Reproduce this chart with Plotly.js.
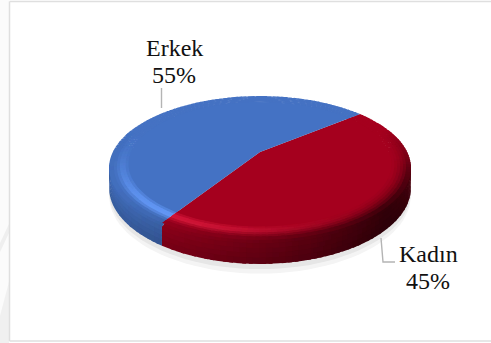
<!DOCTYPE html>
<html>
<head>
<meta charset="utf-8">
<script src="https://cdn.plot.ly/plotly-3.0.1.min.js"></script>
<style>html,body{margin:0;padding:0;background:#fff}#chart{width:491px;height:343px}</style>
</head>
<body>
<div id="chart"></div>
<script>
// Gender split shown as a tilted pie with a bevelled rim
const categories = ['Kadın', 'Erkek'];
const shares = [45, 55];
const sliceColors = [[165, 0, 30], [68, 114, 196]];
const labelSpots = [[428, 254, 281], [174, 48, 75]];

const startAngle = 39.2;            // degrees, slices run clockwise from here
const view = {cx: 260, cy: 152, A: 147.2, B: 68.4, k: 0.222, drop: 18.7};
const rimStart = 0.87;
const rad = Math.PI / 180;

// Perspective projection of a point on the disc, r in 0..1
function project(deg, r, depth) {
  const u = r * Math.cos(deg * rad), v = r * Math.sin(deg * rad), w = 1 + view.k * v;
  return [view.cx + view.A * u / w, view.cy - view.B * v / w + depth * view.drop / w];
}

const clamp = (x, a, b) => Math.min(b, Math.max(a, x));

function sideFactor(deg) {
  const lit = Math.cos((deg + 160) * rad);
  const edge = Math.pow(Math.max(0, Math.cos(deg * rad)), 10);
  return clamp(0.5 + 0.45 * lit, 0.3, 1) + 0.28 * edge;
}

function rimColor(base, deg, s) {
  const v = Math.sin(deg * rad);
  const weight = clamp((0.35 - v) / 0.6, 0, 1);
  const f = 1 - weight * s * s * (1 - sideFactor(deg));
  const glow = 0.14 * Math.pow(Math.max(0, Math.cos((deg + 122) * rad)), 3) *
               Math.exp(-Math.pow((s - 0.45) / 0.26, 2));
  return base.map(c => clamp(c * f * (1 + 1.3 * glow) + 153 * glow, 0, 255));
}

function wallColor(base, deg, s) {
  const f = sideFactor(deg) * (1 - 0.16 * s);
  return base.map(c => clamp(c * f, 0, 255));
}

// Facets are grouped by colour; each layer is painted in order so a band
// always covers the overlap of the band before it
function addFacet(store, rgb, pts) {
  const key = rgb.map(c => Math.round(c / 3) * 3).join(',');
  if (!store.has(key)) store.set(key, {x: [], y: []});
  const b = store.get(key);
  pts.concat([pts[0]]).forEach(p => { b.x.push(p[0]); b.y.push(p[1]); });
  b.x.push(null); b.y.push(null);
}

const total = shares.reduce((a, b) => a + b, 0);
const wedges = [];
let from = startAngle;
shares.forEach((share, i) => {
  const sweep = share / total * 360;
  wedges.push({name: categories[i], from: from, to: from - sweep, base: sliceColors[i]});
  from -= sweep;
});

const stepDeg = 2, rimBands = 7, wallBands = 5, lap = 0.6;
const wallLayers = Array.from({length: wallBands}, () => new Map());
const rimLayers = Array.from({length: rimBands}, () => new Map());
wedges.forEach(w => {
  const n = Math.round((w.from - w.to) / stepDeg);
  const d = (w.from - w.to) / n;
  for (let j = 0; j < n; j++) {
    const a0 = w.from - j * d, a1 = a0 - d, mid = (a0 + a1) / 2;
    const p0 = j === 0 ? a0 : a0 + lap, p1 = j === n - 1 ? a1 : a1 - lap;
    if (Math.sin(mid * rad) < 0.3) {
      for (let b = 0; b < wallBands; b++) {
        const t0 = b / wallBands, t1 = (b + 1) / wallBands;
        const r0 = b === 0 ? 0.96 : 1, t2 = b === 0 ? 0 : t0 - 0.06;
        addFacet(wallLayers[b], wallColor(w.base, mid, (t0 + t1) / 2),
          [project(p0, r0, t2), project(p1, r0, t2), project(p1, 1, t1), project(p0, 1, t1)]);
      }
    }
    for (let b = 0; b < rimBands; b++) {
      const s0 = b / rimBands, s1 = (b + 1) / rimBands;
      const r0 = rimStart + (1 - rimStart) * s0 - 0.012;
      const r1 = rimStart + (1 - rimStart) * s1;
      addFacet(rimLayers[b], rimColor(w.base, mid, (s0 + s1) / 2),
        [project(p0, r0, 0), project(p1, r0, 0), project(p1, r1, 0), project(p0, r1, 0)]);
    }
  }
});

const traces = [];

// Soft floor shadow under the disc
[[1.4, '#f4f4f4'], [1.22, '#e6e6e6']].forEach(([depth, color]) => {
  const xs = [], ys = [];
  for (let a = 0; a <= 360; a += 3) {
    const p = project(a, 1, depth);
    xs.push(p[0]); ys.push(p[1]);
  }
  traces.push({type: 'scatter', mode: 'lines', x: xs, y: ys, fill: 'toself', fillcolor: color,
    line: {width: 0, color: color}, hoverinfo: 'skip', showlegend: false});
});

function facetTraces(store) {
  const out = [];
  store.forEach((b, key) => {
    const color = 'rgb(' + key + ')';
    out.push({type: 'scatter', mode: 'lines', x: b.x, y: b.y, fill: 'toself', fillcolor: color,
      line: {width: 0, color: color}, hoverinfo: 'skip', showlegend: false});
  });
  return out;
}

// Flat centre of each slice
const faces = wedges.map(w => {
  const xs = [view.cx], ys = [view.cy];
  const n = Math.ceil((w.from - w.to) / stepDeg);
  for (let j = 0; j <= n; j++) {
    const p = project(w.from - (w.from - w.to) * j / n, rimStart + 0.005, 0);
    xs.push(p[0]); ys.push(p[1]);
  }
  xs.push(view.cx); ys.push(view.cy);
  const color = 'rgb(' + w.base.join(',') + ')';
  return {type: 'scatter', mode: 'lines', name: w.name, x: xs, y: ys, fill: 'toself', fillcolor: color,
    line: {width: 0, color: color}, hoverinfo: 'name', showlegend: false};
});

const textFont = {family: '"Liberation Serif", serif', size: 24, color: '#111111'};
const annotations = [];
categories.forEach((name, i) => {
  const [x, y1, y2] = labelSpots[i];
  annotations.push({x: x, y: y1, xref: 'x', yref: 'y', text: name, showarrow: false, font: textFont});
  annotations.push({x: x, y: y2, xref: 'x', yref: 'y', text: shares[i] + '%', showarrow: false, font: textFont});
});

const frame = {color: '#dfdfdf', width: 1.5};
const leader = {color: '#b4b4b4', width: 1.4};
const shapes = [
  {type: 'rect', x0: 0, x1: 9, y0: 0, y1: 343, fillcolor: '#fbfbfb', line: {width: 0}, layer: 'below'},
  {type: 'path', path: 'M0,243 L9,224 L9,233 L0,252 Z', fillcolor: '#efefef', line: {width: 0}, layer: 'below'},
  {type: 'path', path: 'M0,316 L9,282 L9,343 L0,343 Z', fillcolor: '#f0f0f0', line: {width: 0}, layer: 'below'},
  {type: 'line', x0: 9.5, x1: 491, y0: 1.5, y1: 1.5, line: frame},
  {type: 'line', x0: 9.5, x1: 9.5, y0: 1.5, y1: 341, line: frame},
  {type: 'line', x0: 9.5, x1: 491, y0: 341, y1: 341, line: frame},
  {type: 'line', x0: 161.5, x1: 161.5, y0: 88, y1: 108, line: leader},
  {type: 'path', path: 'M381,238 L383,262 L395,262', line: leader}
];

const discTraces = traces.slice();
wallLayers.forEach(m => discTraces.push(...facetTraces(m)));
rimLayers.forEach(m => discTraces.push(...facetTraces(m)));
discTraces.push(...faces);

const hidden = {visible: false, fixedrange: true};
Plotly.newPlot('chart', discTraces, {
  width: 491, height: 343,
  margin: {l: 0, r: 0, t: 0, b: 0},
  paper_bgcolor: '#ffffff', plot_bgcolor: '#ffffff',
  xaxis: Object.assign({range: [0, 491]}, hidden),
  yaxis: Object.assign({range: [343, 0]}, hidden),
  showlegend: false,
  shapes: shapes,
  annotations: annotations
}, {displayModeBar: false, staticPlot: true});
</script>
</body>
</html>
